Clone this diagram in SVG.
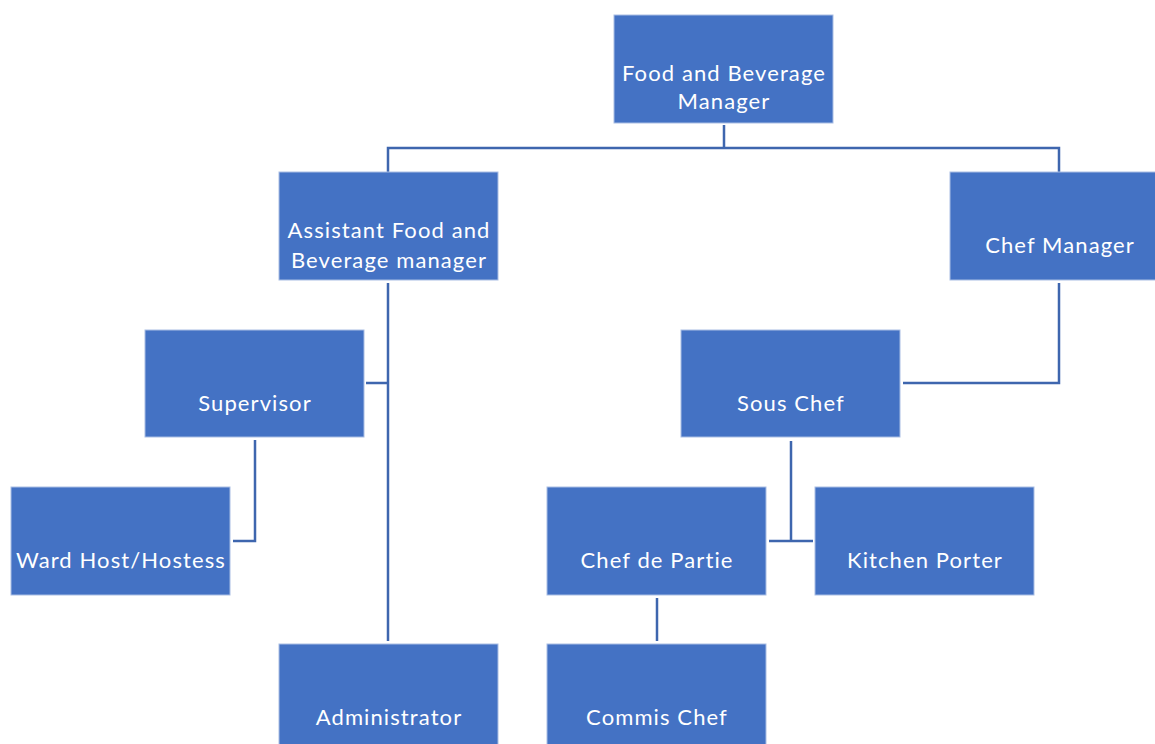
<svg xmlns="http://www.w3.org/2000/svg" width="1155" height="744" viewBox="0 0 1155 744">
<style>
.box{fill:#4472C4;stroke:#A9BEE4;stroke-width:1}
.t{font-family:Lato,"Open Sans","Liberation Sans",sans-serif;font-size:22px;letter-spacing:1.1px;fill:#FFFFFF;text-anchor:middle}
.c{fill:none;stroke:#3E66AE;stroke-width:2.5}
</style>
<rect width="1155" height="744" fill="#FFFFFF"/>
<g id="connectors">
<path class="c" d="M724 125V148M388 172V148H1059V172"/>
<path class="c" d="M388 283V641M366 383H388"/>
<path class="c" d="M255 440V541H233"/>
<path class="c" d="M1059 283V383H903"/>
<path class="c" d="M791 441V541M769 541H813"/>
<path class="c" d="M657 598V641"/>
</g>
<g id="n-fbm"><rect class="box" x="614" y="15" width="219" height="108"/><text class="t" x="724" y="81">Food and Beverage</text><text class="t" x="724" y="109">Manager</text></g>
<g id="n-afbm"><rect class="box" x="279" y="172" width="219" height="108"/><text class="t" x="389" y="238">Assistant Food and</text><text class="t" x="389" y="268">Beverage manager</text></g>
<g id="n-chefmgr"><rect class="box" x="950" y="172" width="219" height="108"/><text class="t" x="1060" y="253">Chef Manager</text></g>
<g id="n-supervisor"><rect class="box" x="145" y="330" width="219" height="107"/><text class="t" x="255" y="411">Supervisor</text></g>
<g id="n-souschef"><rect class="box" x="681" y="330" width="219" height="107"/><text class="t" x="791" y="411">Sous Chef</text></g>
<g id="n-ward"><rect class="box" x="11" y="487" width="219" height="108"/><text class="t" x="121" y="568">Ward Host/Hostess</text></g>
<g id="n-cdp"><rect class="box" x="547" y="487" width="219" height="108"/><text class="t" x="657" y="568">Chef de Partie</text></g>
<g id="n-kp"><rect class="box" x="815" y="487" width="219" height="108"/><text class="t" x="925" y="568">Kitchen Porter</text></g>
<g id="n-admin"><rect class="box" x="279" y="644" width="219" height="108"/><text class="t" x="389" y="725">Administrator</text></g>
<g id="n-commis"><rect class="box" x="547" y="644" width="219" height="108"/><text class="t" x="657" y="725">Commis Chef</text></g>
</svg>
